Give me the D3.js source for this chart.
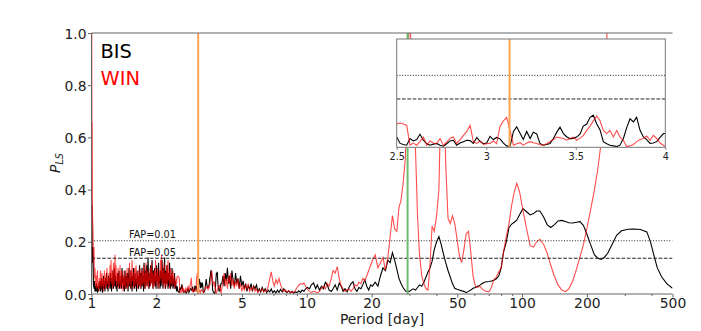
<!DOCTYPE html>
<html><head><meta charset="utf-8">
<script src="https://cdn.jsdelivr.net/npm/d3@7"></script>
<style>body{margin:0;background:#fff}svg{display:block}text{font-family:"DejaVu Sans",sans-serif}</style>
</head><body><svg id="c" width="701" height="331"></svg>
<script>
// ---------------- data ----------------
const periods = [
1.000,1.003,1.005,1.008,1.011,1.016,1.021,1.027,1.032,1.038,
1.044,1.049,1.055,1.060,1.066,1.072,1.077,1.083,1.089,1.095,
1.101,1.107,1.113,1.119,1.125,1.131,1.137,1.143,1.149,1.155,
1.162,1.168,1.174,1.180,1.187,1.193,1.200,1.206,1.213,1.219,
1.226,1.232,1.239,1.245,1.252,1.259,1.265,1.272,1.279,1.286,
1.293,1.300,1.307,1.314,1.321,1.328,1.335,1.342,1.350,1.357,
1.364,1.371,1.379,1.386,1.393,1.401,1.408,1.416,1.423,1.431,
1.439,1.447,1.454,1.462,1.470,1.478,1.486,1.494,1.502,1.510,
1.518,1.526,1.535,1.543,1.551,1.559,1.568,1.576,1.585,1.593,
1.602,1.610,1.619,1.628,1.636,1.645,1.654,1.663,1.672,1.681,
1.690,1.699,1.708,1.717,1.727,1.736,1.745,1.754,1.764,1.773,
1.783,1.792,1.802,1.812,1.821,1.831,1.841,1.851,1.861,1.871,
1.881,1.891,1.901,1.911,1.922,1.932,1.943,1.953,1.964,1.974,
1.985,1.995,2.006,2.016,2.027,2.038,2.049,2.060,2.071,2.082,
2.093,2.104,2.116,2.127,2.139,2.150,2.162,2.173,2.185,2.196,
2.208,2.220,2.232,2.244,2.256,2.268,2.280,2.292,2.305,2.317,
2.329,2.342,2.354,2.367,2.380,2.392,2.405,2.418,2.431,2.444,
2.457,2.470,2.485,
2.500,2.519,2.537,2.556,2.574,2.593,2.612,2.630,2.649,2.668,
2.686,2.705,2.723,2.742,2.761,2.779,2.798,2.816,2.835,2.854,
2.872,2.891,2.910,2.928,2.947,2.965,2.984,3.003,3.021,3.040,
3.058,3.077,3.096,3.114,3.133,3.152,3.170,3.189,3.207,3.226,
3.245,3.263,3.282,3.300,3.319,3.338,3.356,3.375,3.394,3.412,
3.431,3.449,3.468,3.487,3.505,3.524,3.542,3.561,3.580,3.598,
3.617,3.635,3.654,3.673,3.691,3.710,3.729,3.747,3.766,3.784,
3.803,3.822,3.840,3.859,3.877,3.896,3.915,3.933,3.952,3.971,
3.989,4.000,
4.03,4.08,4.13,4.18,4.23,4.28,4.33,4.38,4.43,4.49,
4.55,4.61,4.67,4.73,4.79,4.85,4.92,4.99,5.06,5.13,
5.20,5.27,5.35,5.43,5.51,5.59,5.67,5.75,5.84,5.93,
6.02,6.11,6.21,6.31,6.41,6.51,6.62,6.73,6.84,6.95,
7.07,7.19,7.31,7.43,7.56,7.69,7.82,7.96,8.10,8.24,
8.39,8.54,8.70,8.86,9.02,9.18,9.35,9.52,9.70,9.88,
10.06,
10.3,10.5,10.75,11.0,11.2,11.45,11.7,11.95,12.2,12.45,
12.7,13.0,13.25,13.55,13.85,14.15,14.45,14.75,15.05,15.4,
15.7,16.05,16.4,16.75,17.1,17.45,17.85,18.2,18.6,19.0,
19.4,19.8,
20.2,20.8,21.4,22.0,22.6,23.2,23.8,24.4,25.0,25.6,
26.2,26.8,27.4,28.0,28.7,29.4,29.9,30.5,31.2,32.0,
32.7,33.4,34.2,35.0,35.8,36.6,37.4,38.2,39.1,40.1,
41.1,42.1,43.1,44.2,45.3,46.4,47.5,48.7,49.9,51.1,
52.4,53.7,55.0,56.4,57.8,59.2,60.7,62.2,63.7,65.3,
66.9,68.6,70.3,
72,74,76,78,80,82,84.5,87,89.5,92,
94.5,97.5,101,105,109,113,117,121,126,131,
136,141,147,153,159,165,172,179,186,193,
200,208,217,225,233,241,250,262,275,290,
310,330,355,380,395,410,425,445,470,500
];

const bisPower = [
0.03,0.22,0.34,0.12,0.18,0.17,0.04,0.02,0.05,0.01,
0.03,0.01,0.04,0.02,0.005,0.03,0.01,0.04,0.02,0.05,
0.01,0.03,0.06,0.02,0.005,0.04,0.07,0.02,0.05,0.01,
0.06,0.03,0.08,0.02,0.05,0.01,0.07,0.03,0.06,0.02,
0.08,0.04,0.01,0.06,0.03,0.09,0.02,0.05,0.10,0.03,
0.07,0.02,0.05,0.01,0.08,0.03,0.06,0.09,0.02,0.05,
0.03,0.07,0.02,0.10,0.04,0.07,0.02,0.06,0.01,0.09,
0.04,0.02,0.07,0.03,0.08,0.01,0.05,0.10,0.03,0.06,
0.02,0.09,0.04,0.01,0.07,0.03,0.10,0.05,0.02,0.08,
0.03,0.06,0.01,0.09,0.04,0.07,0.02,0.05,0.11,0.03,
0.08,0.02,0.06,0.10,0.03,0.07,0.01,0.12,0.05,0.02,
0.09,0.04,0.11,0.03,0.06,0.14,0.05,0.02,0.08,0.03,
0.11,0.04,0.07,0.13,0.05,0.02,0.09,0.04,0.10,0.03,
0.07,0.02,0.11,0.05,0.08,0.02,0.12,0.04,0.07,0.02,
0.09,0.03,0.06,0.13,0.05,0.02,0.10,0.04,0.14,0.06,
0.02,0.09,0.04,0.11,0.05,0.02,0.08,0.03,0.12,0.05,
0.02,0.07,0.03,0.10,0.04,0.02,0.06,0.03,0.08,0.02,
0.05,0.03,0.01,
.029,.011,.008,.006,.025,.018,.022,.037,.020,.010,
.006,.009,.011,.006,.003,.010,.018,.020,.006,.012,
.016,.020,.019,.011,.028,.017,.010,.012,.031,.022,
.028,.024,.012,.004,.002,.045,.058,.040,.022,.045,
.025,.043,.038,.011,.006,.008,.011,.025,.043,.057,
.039,.030,.024,.026,.029,.038,.060,.066,.085,.091,
.066,.050,.016,.010,.006,.004,.002,.006,.025,.055,
.081,.072,.085,.048,.030,.022,.011,.012,.016,.028,
.039,.039,
0.04,0.07,0.03,0.08,0.05,0.10,0.04,0.07,0.02,0.09,
0.05,0.03,0.08,0.04,0.06,0.02,0.07,0.03,0.05,0.02,
0.04,0.01,0.03,0.02,0.04,0.01,0.03,0.02,0.035,0.01,
0.02,0.008,0.025,0.01,0.02,0.005,0.015,0.008,0.02,0.005,
0.012,0.004,0.015,0.006,0.018,0.008,0.02,0.01,0.006,0.012,
0.004,0.01,0.003,0.008,0.005,0.012,0.006,0.015,0.01,0.02,
0.025,
0.02,0.035,0.042,0.02,0.035,0.015,0.03,0.02,0.045,0.035,
0.015,0.01,0.02,0.035,0.015,0.042,0.03,0.01,0.02,0.008,
0.025,0.04,0.047,0.02,0.01,0.025,0.02,0.035,0.054,0.03,
0.015,0.035,
0.03,0.045,0.03,0.07,0.10,0.09,0.13,0.12,0.158,0.13,
0.095,0.06,0.04,0.025,0.012,0.008,0.01,0.015,0.02,0.015,
0.025,0.035,0.03,0.045,0.065,0.085,0.10,0.125,0.17,0.20,
0.22,0.19,0.155,0.12,0.09,0.065,0.04,0.022,0.018,0.015,
0.012,0.01,0.005,0.01,0.015,0.022,0.025,0.03,0.034,0.04,
0.045,0.047,0.048,
0.05,0.053,0.058,0.07,0.10,0.16,0.20,0.255,0.268,0.275,
0.283,0.305,0.327,0.315,0.303,0.308,0.318,0.318,0.295,0.265,
0.255,0.265,0.28,0.282,0.278,0.273,0.272,0.275,0.277,0.262,
0.23,0.19,0.15,0.137,0.133,0.14,0.156,0.19,0.225,0.242,
0.248,0.249,0.247,0.238,0.20,0.148,0.10,0.066,0.04,0.022
];

const winPower = [
0.15,1.05,0.40,0.66,0.30,0.24,0.12,0.18,0.06,0.10,
0.03,0.07,0.02,0.06,0.09,0.02,0.05,0.01,0.06,0.03,
0.09,0.02,0.05,0.08,0.03,0.06,0.01,0.05,0.09,0.04,
0.02,0.07,0.03,0.10,0.04,0.06,0.02,0.08,0.03,0.11,
0.05,0.13,0.04,0.09,0.02,0.07,0.12,0.03,0.08,0.15,
0.05,0.11,0.03,0.08,0.04,0.10,0.02,0.07,0.04,0.11,
0.02,0.06,0.09,0.03,0.07,0.01,0.05,0.09,0.03,0.06,
0.02,0.08,0.04,0.10,0.02,0.06,0.03,0.07,0.12,0.04,
0.09,0.02,0.06,0.13,0.05,0.08,0.02,0.06,0.10,0.03,
0.07,0.11,0.04,0.08,0.02,0.06,0.09,0.03,0.05,0.10,
0.02,0.07,0.04,0.09,0.03,0.06,0.11,0.04,0.08,0.02,
0.07,0.12,0.03,0.06,0.09,0.04,0.02,0.08,0.05,0.10,
0.03,0.07,0.12,0.04,0.08,0.02,0.06,0.09,0.03,0.06,
0.13,0.05,0.08,0.03,0.10,0.04,0.07,0.02,0.09,0.05,
0.13,0.06,0.15,0.04,0.09,0.03,0.07,0.12,0.05,0.02,
0.08,0.04,0.11,0.03,0.07,0.13,0.05,0.09,0.02,0.06,
0.10,0.04,0.08,0.03,0.06,0.09,0.04,0.07,0.02,0.05,
0.03,0.06,0.04,
.066,.069,.066,.062,.006,.012,.006,.016,.029,.006,
.018,.012,.010,.025,.006,.015,.025,.029,.011,.022,
.033,.045,.062,.016,.011,.018,.008,.010,.011,.018,
.010,.060,.075,.085,.048,.006,.010,.013,.006,.012,
.016,.013,.011,.007,.006,.011,.016,.022,.029,.027,
.025,.020,.025,.029,.020,.026,.033,.048,.060,.075,
.089,.076,.048,.039,.048,.029,.048,.029,.020,.002,
.004,.008,.016,.022,.025,.032,.020,.034,.025,.012,
.006,.002,
0.02,0.05,0.08,0.03,0.06,0.02,0.07,0.04,0.08,0.03,
0.06,0.02,0.05,0.03,0.06,0.02,0.04,0.01,0.03,0.015,
0.035,0.02,0.04,0.01,0.025,0.015,0.03,0.01,0.02,0.005,
0.015,0.01,0.02,0.008,0.015,0.01,0.03,0.06,0.085,0.05,
0.03,0.055,0.04,0.06,0.035,0.02,0.01,0.015,0.008,0.012,
0.005,0.01,0.006,0.015,0.025,0.034,0.04,0.038,0.042,0.03,
0.018,
0.01,0.005,0.01,0.008,0.005,0.01,0.02,0.03,0.02,0.04,
0.03,0.06,0.09,0.08,0.105,0.06,0.03,0.02,0.01,0.015,
0.02,0.01,0.02,0.035,0.03,0.045,0.04,0.06,0.05,0.07,
0.09,0.11,
0.13,0.15,0.10,0.12,0.14,0.09,0.14,0.22,0.30,0.25,
0.24,0.33,0.36,0.42,0.52,0.80,1.05,0.97,0.78,0.55,
0.30,0.15,0.07,0.04,0.02,0.015,0.12,0.26,0.24,0.30,
0.40,0.80,0.85,0.50,0.29,0.27,0.30,0.27,0.21,0.15,
0.12,0.17,0.23,0.24,0.16,0.07,0.03,0.025,0.03,0.02,
0.012,0.01,0.009,
0.025,0.055,0.065,0.085,0.10,0.16,0.22,0.27,0.34,0.39,
0.424,0.39,0.32,0.25,0.185,0.18,0.20,0.21,0.19,0.155,
0.11,0.07,0.035,0.015,0.009,0.02,0.05,0.095,0.143,0.19,
0.25,0.32,0.40,0.48,0.58,0.80,1.05,1.25,1.4,1.5,
1.55,1.6,1.6,1.6,1.6,1.6,1.6,1.6,1.6,1.6
];

const xTicks = [1, 2, 5, 10, 20, 50, 100, 200, 500];
const yTicks = [0, 0.2, 0.4, 0.6, 0.8, 1.0];
const insetTicks = [2.5, 3, 3.5, 4];
const fapLevels = [0.204, 0.137];
const fapLabels = ["FAP=0.01", "FAP=0.05"];
const fapDash = ["1,1.7", "3.7,1.6"];
const markerPeriods = [3.13, 29.4];
const markerColors = ["#ffa556", "#6bbc6b"];
const seriesNames = ["BIS", "WIN"];

// ---------------- drawing ----------------
const svg = d3.select("#c");
const M = {l: 91.5, r: 672.5, t: 33, b: 294};
const x = d3.scaleLog().domain([1, 500]).range([M.l, M.r]);
const y = d3.scaleLinear().domain([0, 1]).range([M.b, M.t]);

const n = Math.min(periods.length, bisPower.length, winPower.length);
const bis = d3.range(n).map(i => [periods[i], bisPower[i]]);
const win = d3.range(n).map(i => [periods[i], winPower[i]]);

const defs = svg.append("defs");
defs.append("clipPath").attr("id", "clipMain").append("rect")
  .attr("x", M.l).attr("y", M.t).attr("width", M.r - M.l).attr("height", M.b - M.t);

const plot = svg.append("g").attr("clip-path", "url(#clipMain)");
const line = d3.line().x(d => x(d[0])).y(d => y(d[1]));

plot.append("path").datum(bis).attr("d", line)
  .attr("fill", "none").attr("stroke", "#000").attr("stroke-width", 1.1);
plot.append("path").datum(win).attr("d", line)
  .attr("fill", "none").attr("stroke", "#ff0000").attr("stroke-opacity", 0.7).attr("stroke-width", 1.1);

fapLevels.forEach((v, i) => {
  plot.append("line").attr("x1", M.l).attr("x2", M.r).attr("y1", y(v)).attr("y2", y(v))
    .attr("stroke", "#222").attr("stroke-width", 1).attr("stroke-dasharray", fapDash[i]);
});

markerPeriods.forEach((p, i) => {
  plot.append("line").attr("x1", x(p)).attr("x2", x(p)).attr("y1", y(0)).attr("y2", y(1))
    .attr("stroke", markerColors[i]).attr("stroke-width", 2);
});

// FAP labels
fapLevels.forEach((v, i) => {
  svg.append("text").attr("x", 129).attr("y", y(v) - 2.5)
    .attr("font-size", 9.7).attr("fill", "#111").text(fapLabels[i]);
});

// series labels
svg.append("text").attr("x", 100.5).attr("y", 58.3).attr("font-size", 19.4).attr("fill", "#000").text(seriesNames[0]);
svg.append("text").attr("x", 100.5).attr("y", 85).attr("font-size", 19.4).attr("fill", "#ff0000").text(seriesNames[1]);

// spines
const spine = "#666";
svg.append("line").attr("x1", M.l).attr("x2", M.l).attr("y1", M.t).attr("y2", M.b).attr("stroke", spine);
svg.append("line").attr("x1", M.l).attr("x2", M.r).attr("y1", M.b).attr("y2", M.b).attr("stroke", spine);
svg.append("line").attr("x1", M.l).attr("x2", M.r).attr("y1", M.t).attr("y2", M.t).attr("stroke", spine);

// x axis
const minor = x.ticks(30).filter(t => !xTicks.includes(t) && t >= 1 && t <= 500);
const gxMinor = svg.append("g").attr("transform", `translate(0,${M.b})`)
  .call(d3.axisBottom(x).tickValues(minor).tickSize(2).tickFormat(""));
gxMinor.select(".domain").remove();
gxMinor.selectAll("line").attr("stroke", spine);
const gx = svg.append("g").attr("transform", `translate(0,${M.b})`)
  .call(d3.axisBottom(x).tickValues(xTicks).tickSize(3.5).tickFormat(d3.format("d")));
gx.select(".domain").remove();
gx.selectAll("line").attr("stroke", spine);
gx.selectAll("text").attr("y", 13.6).attr("dy", 0).attr("font-size", 13.9)
  .attr("font-family", "DejaVu Sans").attr("fill", "#222");

// y axis
const gy = svg.append("g").attr("transform", `translate(${M.l},0)`)
  .call(d3.axisLeft(y).tickValues(yTicks).tickSize(3.5).tickFormat(d3.format(".1f")));
gy.select(".domain").remove();
gy.selectAll("line").attr("stroke", spine);
gy.selectAll("text").attr("x", -5).attr("dy", "0.36em").attr("font-size", 13.9)
  .attr("font-family", "DejaVu Sans").attr("fill", "#222");

// axis labels
svg.append("text").attr("x", (M.l + M.r) / 2).attr("y", 324).attr("text-anchor", "middle")
  .attr("font-size", 13.9).attr("fill", "#222").text("Period [day]");
const yl = svg.append("text").attr("transform", "translate(60,163) rotate(-90)")
  .attr("text-anchor", "middle").attr("font-size", 13.9).attr("fill", "#222");
yl.append("tspan").attr("font-style", "italic").text("P");
yl.append("tspan").attr("font-style", "italic").attr("font-size", 9.7).attr("dy", 3).text("LS");

// ---------------- inset ----------------
const I = {l: 396.7, r: 665.3, t: 39, b: 147.3};
const xi = d3.scaleLinear().domain([2.5, 4]).range([I.l, I.r]);
const yi = d3.scaleLinear().domain([0, 0.307]).range([I.b, I.t]);
svg.append("rect").attr("x", I.l).attr("y", I.t).attr("width", I.r - I.l).attr("height", I.b - I.t)
  .attr("fill", "#fff");
defs.append("clipPath").attr("id", "clipInset").append("rect")
  .attr("x", I.l).attr("y", I.t).attr("width", I.r - I.l).attr("height", I.b - I.t);
const ig = svg.append("g").attr("clip-path", "url(#clipInset)");
const iline = d3.line().x(d => xi(d[0])).y(d => yi(d[1]));
const inRange = d => d[0] >= 2.45 && d[0] <= 4.05;
ig.append("path").datum(bis.filter(inRange)).attr("d", iline)
  .attr("fill", "none").attr("stroke", "#000").attr("stroke-width", 1.1);
ig.append("path").datum(win.filter(inRange)).attr("d", iline)
  .attr("fill", "none").attr("stroke", "#ff0000").attr("stroke-opacity", 0.7).attr("stroke-width", 1.1);
fapLevels.forEach((v, i) => {
  ig.append("line").attr("x1", I.l).attr("x2", I.r).attr("y1", yi(v)).attr("y2", yi(v))
    .attr("stroke", "#222").attr("stroke-width", 1).attr("stroke-dasharray", fapDash[i]);
});
markerPeriods.filter(p => p >= 2.5 && p <= 4).forEach(p => {
  ig.append("line").attr("x1", xi(p)).attr("x2", xi(p)).attr("y1", I.b).attr("y2", I.t)
    .attr("stroke", markerColors[0]).attr("stroke-width", 2);
});
svg.append("rect").attr("x", I.l).attr("y", I.t).attr("width", I.r - I.l).attr("height", I.b - I.t)
  .attr("fill", "none").attr("stroke", "#777").attr("stroke-width", 1);
const gi = svg.append("g").attr("transform", `translate(0,${I.b})`)
  .call(d3.axisBottom(xi).tickValues(insetTicks).tickSize(2.5).tickFormat(d => String(d)));
gi.select(".domain").remove();
gi.selectAll("line").attr("stroke", "#777");
gi.selectAll("text").attr("y", 12.6).attr("dy", 0).attr("font-size", 9.7)
  .attr("font-family", "DejaVu Sans").attr("fill", "#222");
</script></body></html>
